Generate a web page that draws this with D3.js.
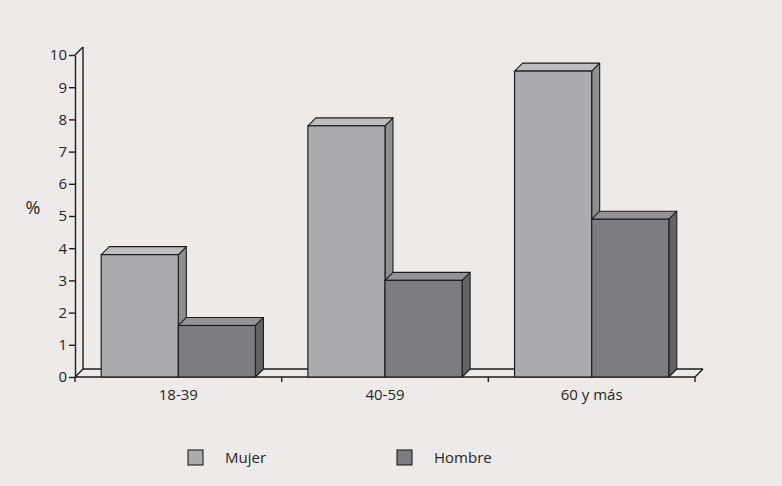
<!DOCTYPE html>
<html>
<head>
<meta charset="utf-8">
<script src="https://cdn.jsdelivr.net/npm/d3@7/dist/d3.min.js"></script>
<style>
  html, body { margin: 0; padding: 0; background: #ecebe9; }
  svg { display: block; }
  text { font-family: "Open Sans", "DejaVu Sans", sans-serif; fill: #262626; }
</style>
</head>
<body>
<svg id="chart" width="782" height="486"></svg>
<script>
// Prevalence (%) by age group and sex
const categories = ["18-39", "40-59", "60 y más"];
const seriesNames = ["Mujer", "Hombre"];
const mujer = [3.8, 7.8, 9.5];
const hombre = [1.6, 3.0, 4.9];
const yTicks = [0, 1, 2, 3, 4, 5, 6, 7, 8, 9, 10];
const yLabel = "%";

const W = 782, H = 486;
const svg = d3.select("#chart");
svg.append("rect").attr("width", W).attr("height", H).attr("fill", "#ecebe9");

// plot frame (front plane) and 3D depth offset
const x0 = 75, x1 = 695, yBottom = 377, yTop = 55;
const dx = 8, dy = 8;
const ink = "#1e1e1e";

const y = d3.scaleLinear().domain([0, 10]).range([yBottom, yTop]);
const xBand = d3.scaleBand().domain(categories).range([x0, x1]).paddingInner(0).paddingOuter(0);
const xSeries = d3.scaleBand().domain(seriesNames).range([0, xBand.bandwidth()]).paddingInner(0).paddingOuter(0.34);

const colors = {
  Mujer:  { front: "#acabad", top: "#bdbcbe", side: "#8f8e90" },
  Hombre: { front: "#7d7c7e", top: "#939294", side: "#636264" }
};

const g = svg.append("g");

// back wall edge and floor
const frame = g.append("g").attr("fill", "none").attr("stroke", ink).attr("stroke-width", 1.4);
frame.append("line").attr("x1", x0 + dx).attr("y1", yTop - dy).attr("x2", x0 + dx).attr("y2", yBottom - dy);
frame.append("line").attr("x1", x0).attr("y1", yTop).attr("x2", x0 + dx).attr("y2", yTop - dy);
frame.append("line").attr("x1", x0).attr("y1", yBottom).attr("x2", x0 + dx).attr("y2", yBottom - dy);
frame.append("line").attr("x1", x0 + dx).attr("y1", yBottom - dy).attr("x2", x1 + dx).attr("y2", yBottom - dy);
frame.append("line").attr("x1", x1).attr("y1", yBottom).attr("x2", x1 + dx).attr("y2", yBottom - dy);
frame.append("line").attr("x1", x0).attr("y1", yBottom).attr("x2", x1).attr("y2", yBottom);

// x-axis ticks at category boundaries
const bounds = categories.map(c => xBand(c)).concat([x1]);
g.append("g").selectAll("line").data(bounds).join("line")
  .attr("x1", d => d).attr("x2", d => d)
  .attr("y1", yBottom).attr("y2", yBottom + 5)
  .attr("stroke", ink).attr("stroke-width", 1.4);

// bars
const rows = [];
categories.forEach((c, i) => {
  rows.push({ cat: c, series: "Mujer", value: mujer[i] });
  rows.push({ cat: c, series: "Hombre", value: hombre[i] });
});

const bars = g.append("g").selectAll("g.bar").data(rows).join("g").attr("class", "bar");
bars.each(function(d) {
  const sel = d3.select(this);
  const bx = xBand(d.cat) + xSeries(d.series);
  const bw = xSeries.bandwidth();
  const ty = y(d.value), by = y(0);
  const c = colors[d.series];
  // side face
  sel.append("path")
    .attr("d", `M${bx + bw},${ty} L${bx + bw + dx},${ty - dy} L${bx + bw + dx},${by - dy} L${bx + bw},${by} Z`)
    .attr("fill", c.side).attr("stroke", ink).attr("stroke-width", 1.1).attr("stroke-linejoin", "round");
  // top face
  sel.append("path")
    .attr("d", `M${bx},${ty} L${bx + dx},${ty - dy} L${bx + bw + dx},${ty - dy} L${bx + bw},${ty} Z`)
    .attr("fill", c.top).attr("stroke", ink).attr("stroke-width", 1.1).attr("stroke-linejoin", "round");
  // front face
  sel.append("rect")
    .attr("x", bx).attr("y", ty).attr("width", bw).attr("height", by - ty)
    .attr("fill", c.front).attr("stroke", ink).attr("stroke-width", 1.2);
});

// y axis on the front plane
const yAxis = g.append("g")
  .attr("transform", `translate(${x0},0)`)
  .call(d3.axisLeft(y).tickValues(yTicks).tickFormat(d3.format("d")).tickSize(6).tickSizeOuter(0).tickPadding(2));
yAxis.select(".domain").attr("stroke", ink).attr("stroke-width", 1.4);
yAxis.selectAll(".tick line").attr("stroke", ink).attr("stroke-width", 1.4);
yAxis.selectAll(".tick text").attr("font-size", 15).attr("fill", "#262626")
  .style("font-family", "'Open Sans', sans-serif");

// category labels
const xAxis = g.append("g")
  .attr("transform", `translate(0,${yBottom})`)
  .call(d3.axisBottom(xBand).tickSize(0).tickPadding(12));
xAxis.select(".domain").remove();
xAxis.selectAll(".tick text").attr("font-size", 15).attr("fill", "#262626")
  .style("font-family", "'Open Sans', sans-serif");

// y-axis title
svg.append("text").attr("x", 33).attr("y", 214).attr("text-anchor", "middle")
  .attr("font-size", 18).text(yLabel);

// legend
const legendX = { Mujer: 188, Hombre: 397 };
const leg = svg.append("g").selectAll("g").data(seriesNames).join("g")
  .attr("transform", d => `translate(${legendX[d]},450)`);
leg.append("rect").attr("width", 15).attr("height", 15)
  .attr("fill", d => colors[d].front).attr("stroke", ink).attr("stroke-width", 1.1);
leg.append("text").attr("x", 37).attr("y", 13).attr("font-size", 15).text(d => d);
</script>
</body>
</html>
